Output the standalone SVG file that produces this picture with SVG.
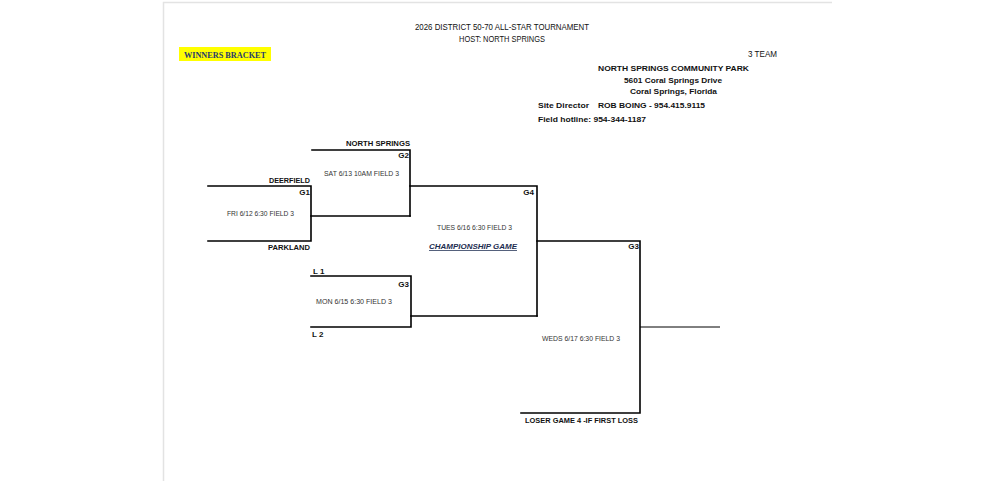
<svg xmlns="http://www.w3.org/2000/svg" width="995" height="481" viewBox="0 0 995 481">
<style>
.ln{stroke:#000;stroke-width:1.6;fill:none;stroke-linecap:square}
.thin{stroke:#000;stroke-width:1;fill:none}
.hdr{font-family:"Liberation Sans",Arial,sans-serif;font-size:8.5px;fill:#111}
.b{font-family:"Liberation Sans",Arial,sans-serif;font-size:8px;font-weight:bold;fill:#111}
.lbl{font-family:"Liberation Sans",Arial,sans-serif;font-size:8px;font-weight:bold;fill:#111}
.dt{font-family:"Liberation Sans",Arial,sans-serif;font-size:6.5px;fill:#333}
</style>
<rect x="0" y="0" width="995" height="481" fill="#fff"/>
<path d="M163.5 481 V2.5 H832" stroke="#e3e3e3" stroke-width="1.5" fill="none"/>
<g id="header">
<text class="hdr" x="502" y="30" text-anchor="middle" textLength="174" lengthAdjust="spacingAndGlyphs">2026 DISTRICT 50-70 ALL-STAR TOURNAMENT</text>
<text class="hdr" x="502" y="42" text-anchor="middle" textLength="86" lengthAdjust="spacingAndGlyphs">HOST: NORTH SPRINGS</text>
<rect x="179" y="47" width="92" height="14" fill="#ffff00"/>
<text x="225" y="57.5" text-anchor="middle" font-family="'Liberation Serif',serif" font-weight="bold" font-size="7.5" fill="#1f3a6e" textLength="82" lengthAdjust="spacingAndGlyphs">WINNERS BRACKET</text>
<text class="hdr" x="748" y="57" textLength="29" lengthAdjust="spacingAndGlyphs">3 TEAM</text>
<text class="b" x="673.5" y="71" text-anchor="middle" textLength="151" lengthAdjust="spacingAndGlyphs">NORTH SPRINGS COMMUNITY PARK</text>
<text class="b" x="673" y="83" text-anchor="middle" textLength="98" lengthAdjust="spacingAndGlyphs">5601 Coral Springs Drive</text>
<text class="b" x="673.5" y="94" text-anchor="middle" textLength="87" lengthAdjust="spacingAndGlyphs">Coral Springs, Florida</text>
<text class="b" x="538" y="108" textLength="51" lengthAdjust="spacingAndGlyphs">Site Director</text>
<text class="b" x="598" y="108" textLength="107" lengthAdjust="spacingAndGlyphs">ROB BOING - 954.415.9115</text>
<text class="b" x="538" y="122" textLength="108" lengthAdjust="spacingAndGlyphs">Field hotline:  954-344-1187</text>
</g>
<g id="connectors">
<path class="ln" d="M208 186 H311 V241 H208"/>
<path class="ln" d="M311 216 H410"/>
<path class="ln" d="M312 150 H410 V216"/>
<path class="ln" d="M410 186 H537 V316"/>
<path class="ln" d="M311 276 H411 V327 H311"/>
<path class="ln" d="M411 316 H537"/>
<path class="ln" d="M537 241 H640 V413 H521"/>
<path class="thin" d="M640 327 H720"/>
</g>
<g id="g1">
<text class="lbl" x="310" y="183" text-anchor="end" textLength="41" lengthAdjust="spacingAndGlyphs">DEERFIELD</text>
<text class="lbl" x="310" y="195" text-anchor="end">G1</text>
<text class="dt" x="227" y="216" textLength="67" lengthAdjust="spacingAndGlyphs">FRI 6/12 6:30 FIELD 3</text>
<text class="lbl" x="310" y="250" text-anchor="end" textLength="42" lengthAdjust="spacingAndGlyphs">PARKLAND</text>
</g>
<g id="g2">
<text class="lbl" x="410" y="146" text-anchor="end" textLength="64" lengthAdjust="spacingAndGlyphs">NORTH SPRINGS</text>
<text class="lbl" x="409" y="158" text-anchor="end">G2</text>
<text class="dt" x="324" y="176" textLength="75" lengthAdjust="spacingAndGlyphs">SAT 6/13 10AM FIELD 3</text>
</g>
<g id="g3">
<text class="lbl" x="313" y="274">L 1</text>
<text class="lbl" x="409" y="287" text-anchor="end">G3</text>
<text class="dt" x="316" y="304" textLength="76" lengthAdjust="spacingAndGlyphs">MON 6/15 6:30 FIELD 3</text>
<text class="lbl" x="312" y="337">L 2</text>
</g>
<g id="g4">
<text class="lbl" x="534" y="195" text-anchor="end">G4</text>
<text class="dt" x="437" y="230" textLength="75" lengthAdjust="spacingAndGlyphs">TUES 6/16 6:30 FIELD 3</text>
<text x="429" y="249" font-family="'Liberation Sans',Arial,sans-serif" font-size="7.5" font-weight="bold" font-style="italic" fill="#1c2c50" text-decoration="underline" textLength="88" lengthAdjust="spacingAndGlyphs">CHAMPIONSHIP GAME</text>
</g>
<g id="g3final">
<text class="lbl" x="639" y="249" text-anchor="end">G3</text>
<text class="dt" x="542" y="341" textLength="78" lengthAdjust="spacingAndGlyphs">WEDS 6/17 6:30 FIELD 3</text>
<text class="lbl" x="525" y="423" textLength="113" lengthAdjust="spacingAndGlyphs">LOSER GAME 4 -IF FIRST LOSS</text>
</g>
</svg>
